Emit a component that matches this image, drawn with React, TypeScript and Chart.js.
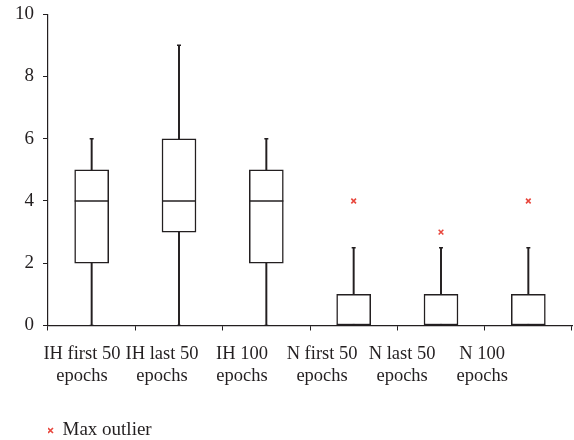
import React, { useEffect, useRef } from "react";
import { Chart, registerables } from "chart.js";

Chart.register(...registerables);

// box plot values
const categories = [
  ["IH first 50", "epochs"],
  ["IH last 50", "epochs"],
  ["IH 100", "epochs"],
  ["N first 50", "epochs"],
  ["N last 50", "epochs"],
  ["N 100", "epochs"],
];
const mins = [0, 0, 0, 0, 0, 0];
const q1s = [2, 3, 2, 0, 0, 0];
const medians = [4, 4, 4, 0, 0, 0];
const q3s = [5, 6, 5, 1, 1, 1];
const maxs = [6, 9, 6, 2.5, 2.5, 2.5];
const outliers = [null, null, null, 4, 3, 4];
const yTicks = [0, 2, 4, 6, 8, 10];

const ink = "#231f20";
const red = "#e8473d";
const font = { family: "'Liberation Serif', 'DejaVu Serif', serif", size: 19 };

const App = () => {
  const canvas = useRef<HTMLCanvasElement>(null);

  useEffect(() => {
    const chart = new Chart(canvas.current!, {
      type: "bar",
      data: {
        labels: categories,
        datasets: [
          {
            type: "line",
            label: "Max outlier",
            data: outliers,
            showLine: false,
            pointStyle: "crossRot",
            pointRadius: 3.3,
            borderColor: red,
            backgroundColor: red,
            borderWidth: 1.6,
            order: 0,
          },
          {
            type: "line",
            label: "median",
            data: medians,
            showLine: false,
            pointStyle: "line",
            pointRadius: 17,
            borderColor: ink,
            borderWidth: 1.5,
            order: 1,
          },
          {
            type: "line",
            label: "max",
            data: maxs,
            showLine: false,
            pointStyle: "line",
            pointRadius: 2,
            borderColor: ink,
            borderWidth: 1.5,
            order: 2,
          },
          {
            type: "line",
            label: "min",
            data: mins,
            showLine: false,
            pointStyle: "line",
            pointRadius: 2,
            borderColor: ink,
            borderWidth: 1.5,
            order: 2,
          },
          {
            type: "bar",
            label: "box",
            data: q1s.map((q, i) => [q, q3s[i]]),
            backgroundColor: "#ffffff",
            borderColor: ink,
            borderWidth: 1.5,
            borderSkipped: false,
            barThickness: 34,
            grouped: false,
            order: 3,
          },
          {
            type: "bar",
            label: "whisker",
            data: mins.map((m, i) => [m, maxs[i]]),
            backgroundColor: ink,
            borderWidth: 0,
            barThickness: 1.3,
            grouped: false,
            order: 4,
          },
        ],
      } as any,
      options: {
        animation: false,
        responsive: false,
        events: [],
        layout: { autoPadding: false, padding: { left: 6, right: 2, top: 0, bottom: -10 } },
        scales: {
          x: {
            offset: true,
            weight: 0,
            grid: {
              offset: true,
              drawOnChartArea: false,
              drawTicks: true,
              tickLength: 5,
              color: ink,
            },
            border: { color: ink, width: 1.2 },
            ticks: { display: false },
          },
          // the category names sit a little left of their boxes in the original
          names: {
            type: "linear",
            position: "bottom",
            offset: false,
            weight: 1,
            min: -0.424,
            max: 6.122,
            afterBuildTicks: (scale: any) => {
              scale.ticks = categories.map((_, i) => ({ value: i }));
            },
            grid: { display: false, drawTicks: false, offset: false },
            border: { display: false },
            ticks: {
              color: ink,
              font: { ...font, size: 18.5, lineHeight: 1.23 },
              padding: 12,
              maxRotation: 0,
              autoSkip: false,
              callback: (value: number) => categories[value],
            },
            afterFit: (scale: any) => {
              scale.height += 21;
            },
          },
          y: {
            min: 0,
            max: 10,
            afterBuildTicks: (scale: any) => {
              scale.ticks = yTicks.map((v) => ({ value: v }));
            },
            grid: {
              drawOnChartArea: false,
              drawTicks: true,
              tickLength: 5,
              color: ink,
            },
            border: { color: ink, width: 1.2 },
            ticks: { color: ink, font: { ...font, lineHeight: 0.55 }, padding: 9 },
          },
        },
        plugins: {
          tooltip: { enabled: false },
          legend: {
            position: "bottom",
            align: "start",
            fullSize: false,
            labels: {
              filter: (item: any) => item.text === "Max outlier",
              usePointStyle: true,
              boxWidth: 5,
              boxHeight: 5,
              padding: 0,
              color: ink,
              font,
            },
          },
        },
      } as any,
    });

    return () => {
      chart.destroy();
    };
  }, []);

  return (
    <div style={{ position: "fixed", left: 0, top: 0, width: 574, height: 440, background: "#fff" }}>
      <canvas ref={canvas} width={574} height={440} style={{ display: "block" }}></canvas>
    </div>
  );
};

export default App;
